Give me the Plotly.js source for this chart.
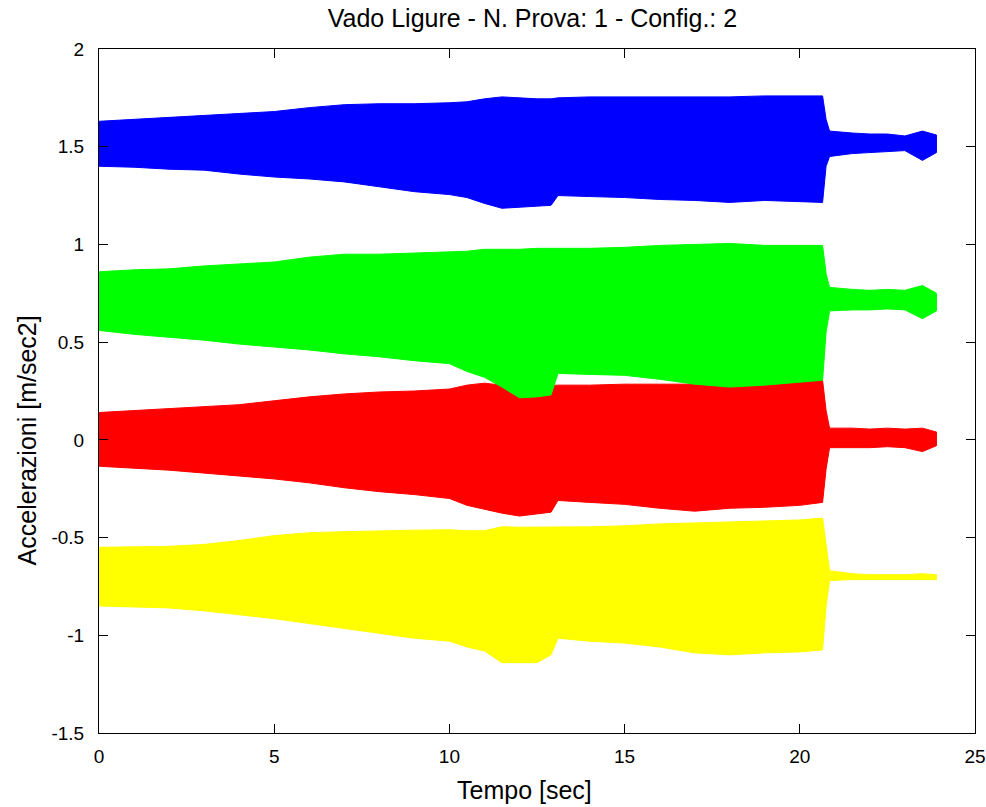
<!DOCTYPE html>
<html>
<head>
<meta charset="utf-8">
<script src="https://cdn.plot.ly/plotly-3.0.1.min.js"></script>
<style>html,body{margin:0;padding:0;background:#fff;}#chart{width:986px;height:807px;}</style>
</head>
<body>
<div id="chart"></div>
<script>
// Sample times (sec) at which the envelopes were read
const tempo = [0, 1, 2, 3, 4, 5, 6, 7, 8, 9, 10, 10.5, 11, 11.5, 12, 12.5, 12.9, 13.1, 14, 15, 16, 17, 18, 19, 20, 20.65, 20.75, 20.85, 21.5, 22, 22.5, 23, 23.5, 23.9];

// Blue channel (upper / lower envelope, m/sec2)
const bluMax = [1.63, 1.64, 1.65, 1.66, 1.67, 1.68, 1.70, 1.715, 1.72, 1.72, 1.725, 1.73, 1.745, 1.755, 1.75, 1.745, 1.745, 1.75, 1.755, 1.755, 1.755, 1.755, 1.755, 1.76, 1.76, 1.76, 1.64, 1.58, 1.57, 1.565, 1.565, 1.555, 1.58, 1.56];
const bluMin = [1.40, 1.395, 1.385, 1.38, 1.36, 1.345, 1.335, 1.32, 1.295, 1.27, 1.255, 1.24, 1.21, 1.185, 1.19, 1.195, 1.20, 1.25, 1.245, 1.24, 1.23, 1.225, 1.215, 1.225, 1.22, 1.215, 1.40, 1.45, 1.465, 1.47, 1.475, 1.48, 1.43, 1.47];

// Green channel
const verMax = [0.86, 0.87, 0.875, 0.89, 0.90, 0.91, 0.935, 0.95, 0.95, 0.955, 0.96, 0.965, 0.975, 0.975, 0.975, 0.98, 0.98, 0.98, 0.98, 0.985, 0.995, 1.0, 1.005, 0.995, 0.995, 0.995, 0.85, 0.78, 0.77, 0.765, 0.77, 0.765, 0.79, 0.75];
const verMin = [0.56, 0.54, 0.525, 0.51, 0.49, 0.475, 0.46, 0.44, 0.425, 0.405, 0.39, 0.35, 0.32, 0.27, 0.215, 0.22, 0.23, 0.34, 0.335, 0.33, 0.31, 0.285, 0.27, 0.28, 0.295, 0.305, 0.55, 0.66, 0.665, 0.665, 0.67, 0.665, 0.62, 0.66];

// Red channel
const rosMax = [0.14, 0.15, 0.16, 0.17, 0.18, 0.20, 0.22, 0.235, 0.245, 0.25, 0.26, 0.28, 0.29, 0.28, 0.27, 0.275, 0.28, 0.28, 0.28, 0.285, 0.285, 0.285, 0.29, 0.30, 0.305, 0.305, 0.15, 0.06, 0.06, 0.055, 0.06, 0.055, 0.06, 0.04];
const rosMin = [-0.135, -0.145, -0.155, -0.17, -0.185, -0.20, -0.22, -0.245, -0.265, -0.28, -0.30, -0.335, -0.355, -0.375, -0.39, -0.38, -0.37, -0.31, -0.32, -0.33, -0.35, -0.365, -0.35, -0.345, -0.335, -0.32, -0.15, -0.04, -0.04, -0.04, -0.035, -0.04, -0.06, -0.03];

// Yellow channel
const gialMax = [-0.55, -0.548, -0.545, -0.535, -0.515, -0.49, -0.475, -0.47, -0.465, -0.462, -0.46, -0.465, -0.465, -0.445, -0.447, -0.447, -0.447, -0.447, -0.445, -0.44, -0.43, -0.425, -0.42, -0.418, -0.41, -0.40, -0.55, -0.67, -0.685, -0.69, -0.69, -0.69, -0.685, -0.69];
const gialMin = [-0.85, -0.855, -0.86, -0.875, -0.895, -0.915, -0.94, -0.965, -0.99, -1.015, -1.03, -1.06, -1.08, -1.14, -1.14, -1.14, -1.10, -1.015, -1.03, -1.04, -1.06, -1.09, -1.10, -1.09, -1.085, -1.075, -0.85, -0.72, -0.715, -0.715, -0.715, -0.715, -0.715, -0.715];

// Tick labels
const xTickVals = [0, 5, 10, 15, 20, 25];
const xTickText = ['0', '5', '10', '15', '20', '25'];
const yTickVals = [-1.5, -1, -0.5, 0, 0.5, 1, 1.5, 2];
const yTickText = ['-1.5', '-1', '-0.5', '0', '0.5', '1', '1.5', '2'];

function band(maxArr, minArr, color) {
  const x = tempo.concat(tempo.slice().reverse());
  const y = maxArr.concat(minArr.slice().reverse());
  return {
    x: x, y: y, type: 'scatter', mode: 'lines',
    fill: 'toself', fillcolor: color,
    line: {color: color, width: 1},
    hoverinfo: 'skip', showlegend: false
  };
}

const traces = [
  band(gialMax, gialMin, '#ffff00'),
  band(rosMax, rosMin, '#ff0000'),
  band(verMax, verMin, '#00ff00'),
  band(bluMax, bluMin, '#0000ff')
];

const fontFam = 'Liberation Sans, Arial, sans-serif';
const axisCommon = {
  showline: true, linecolor: '#000', linewidth: 1, mirror: 'ticks',
  ticks: 'inside', ticklen: 9, tickcolor: '#000', tickwidth: 1,
  showgrid: false, zeroline: false,
  tickfont: {family: fontFam, size: 19, color: '#000'}
};

const layout = {
  width: 986, height: 807,
  margin: {l: 99, r: 11, t: 49, b: 74},
  paper_bgcolor: '#fff', plot_bgcolor: '#fff',
  title: {text: 'Vado Ligure - N. Prova: 1 - Config.: 2', x: 0.54, xanchor: 'center', y: 0.977, yanchor: 'middle',
          font: {family: fontFam, size: 25, color: '#000'}},
  xaxis: Object.assign({}, axisCommon, {
    range: [0, 25], tickmode: 'array', tickvals: xTickVals, ticktext: xTickText,
    ticklabelstandoff: 6
  }),
  yaxis: Object.assign({}, axisCommon, {
    range: [-1.5, 2], tickmode: 'array', tickvals: yTickVals, ticktext: yTickText,
    ticklabelstandoff: 10
  }),
  annotations: [
    {text: 'Tempo [sec]', xref: 'paper', yref: 'paper', x: 0.486, y: -0.083,
     xanchor: 'center', yanchor: 'middle', showarrow: false,
     font: {family: fontFam, size: 25, color: '#000'}},
    {text: 'Accelerazioni [m/sec2]', xref: 'paper', yref: 'paper', x: -0.082, y: 0.428,
     xanchor: 'center', yanchor: 'middle', showarrow: false, textangle: -90,
     font: {family: fontFam, size: 25, color: '#000'}}
  ]
};

Plotly.newPlot('chart', traces, layout, {staticPlot: true, displayModeBar: false});
</script>
</body>
</html>
